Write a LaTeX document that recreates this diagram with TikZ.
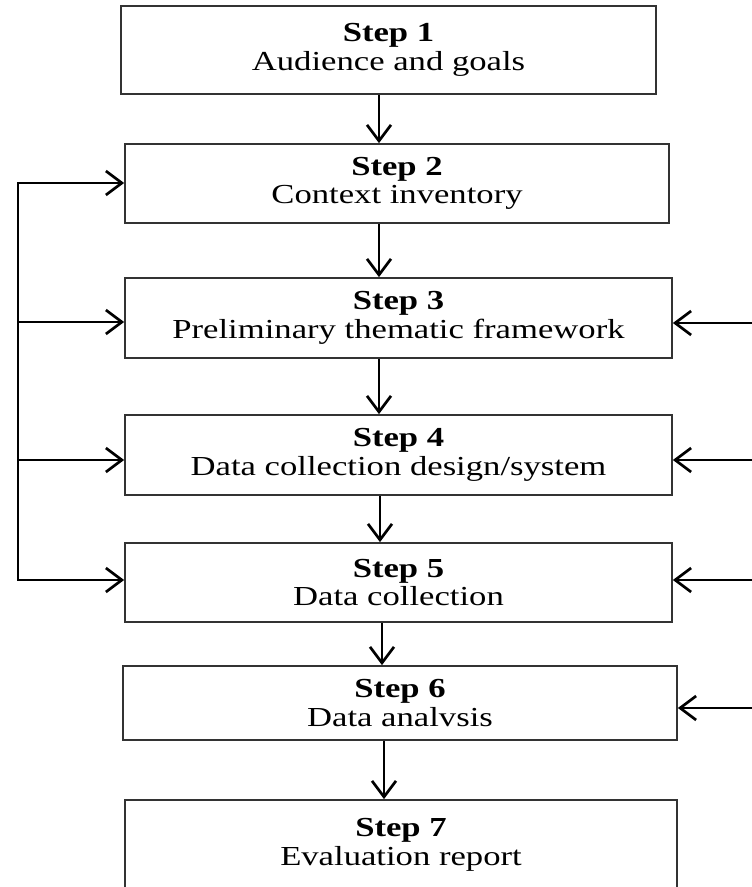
\documentclass[tikz,border=0pt]{standalone}
\usepackage{fontspec}
\setmainfont[FakeStretch=1.26]{Liberation Serif}
\usetikzlibrary{arrows.meta}
\begin{document}
\begin{tikzpicture}[x=1pt,y=-1pt,
  stepbox/.style={draw=black!80, line width=1.7pt, inner sep=0pt, align=center,
    font=\fontsize{27.5}{28.5}\selectfont},
  flow/.style={line width=2.7pt, line join=miter,
    -{Straight Barb[length=16pt,width=24pt]}}]
  \clip (0,0) rectangle (752,887);
  \fill[white] (0,0) rectangle (752,887);

  % the seven steps
  \node[stepbox, minimum width=535pt, minimum height=88pt] (b1) at (388.5,50)
    {\textbf{Step 1}\\Audience and goals};
  \node[stepbox, minimum width=544pt, minimum height=79pt] (b2) at (397,183.5)
    {\textbf{Step 2}\\Context inventory};
  \node[stepbox, minimum width=547pt, minimum height=80pt] (b3) at (398.5,318)
    {\textbf{Step 3}\\Preliminary thematic framework};
  \node[stepbox, minimum width=547pt, minimum height=80pt] (b4) at (398.5,455)
    {\textbf{Step 4}\\Data collection design/system};
  \node[stepbox, minimum width=547pt, minimum height=79pt] (b5) at (398.5,582.5)
    {\textbf{Step 5}\\Data collection};
  \node[stepbox, minimum width=554pt, minimum height=74pt] (b6) at (400,703)
    {\textbf{Step 6}\\Data analvsis};
  \node[stepbox, minimum width=552pt, minimum height=90pt] (b7) at (401,845)
    {\textbf{Step 7}\\Evaluation report};

  % main downward flow
  \coordinate (d1) at (379,0);
  \coordinate (d2) at (379,0);
  \coordinate (d3) at (379,0);
  \coordinate (d4) at (380,0);
  \coordinate (d5) at (382,0);
  \coordinate (d6) at (384,0);
  \draw[flow] (b1.south -| d1) -- (b2.north -| d1);
  \draw[flow] (b2.south -| d2) -- (b3.north -| d2);
  \draw[flow] (b3.south -| d3) -- (b4.north -| d3);
  \draw[flow] (b4.south -| d4) -- (b5.north -| d4);
  \draw[flow] (b5.south -| d5) -- (b6.north -| d5);
  \draw[flow] (b6.south -| d6) -- (b7.north -| d6);

  % feedback loop on the left
  \coordinate (l2) at (18,183);
  \coordinate (l3) at (18,322);
  \coordinate (l4) at (18,460);
  \coordinate (l5) at (18,580);
  \draw[flow] (l5) -- (l2) -- (l2 -| b2.west);
  \draw[flow] (l2) -- (l5) -- (l5 -| b5.west);
  \draw[flow] (l3) -- (l3 -| b3.west);
  \draw[flow] (l4) -- (l4 -| b4.west);

  % inputs from the right
  \coordinate (r3) at (752,323);
  \coordinate (r4) at (752,460);
  \coordinate (r5) at (752,580);
  \coordinate (r6) at (752,708);
  \draw[flow] (r3) -- (r3 -| b3.east);
  \draw[flow] (r4) -- (r4 -| b4.east);
  \draw[flow] (r5) -- (r5 -| b5.east);
  \draw[flow] (r6) -- (r6 -| b6.east);
\end{tikzpicture}
\end{document}
